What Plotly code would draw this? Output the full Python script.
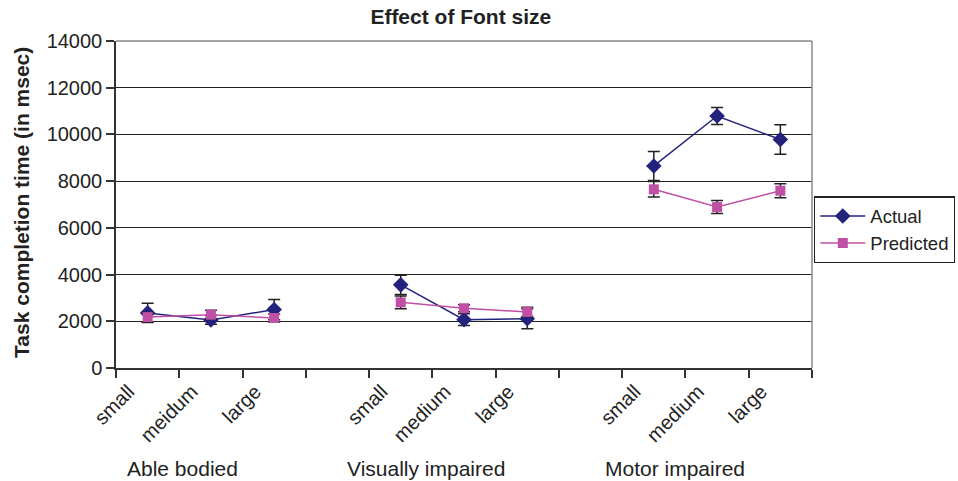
import plotly.graph_objects as go

# ---- data ----
categories = ["small", "meidum", "large", "", "small", "medium", "large", "", "small", "medium", "large"]
groups = ["Able bodied", "Visually impaired", "Motor impaired"]
actual = [2360, 2060, 2500, None, 3560, 2070, 2110, None, 8650, 10790, 9780]
actual_err = [410, 190, 430, None, 410, 250, 430, None, 620, 360, 630]
predicted = [2180, 2285, 2140, None, 2810, 2560, 2400, None, 7650, 6890, 7590]
predicted_err = [200, 190, 170, None, 270, 150, 200, None, 330, 280, 300]
yticks = [0, 2000, 4000, 6000, 8000, 10000, 12000, 14000]

xpos = list(range(len(categories)))
FONT = "Liberation Sans, Arial, sans-serif"
NAVY = "#23237E"
PINK = "#C04FA6"
TXT = "#222222"

fig = go.Figure()
fig.add_trace(go.Scatter(
    x=xpos, y=actual, name="Actual", mode="lines+markers",
    line=dict(color=NAVY, width=1.5),
    marker=dict(symbol="diamond", size=12, color=NAVY),
    error_y=dict(type="data", array=actual_err, color=TXT, thickness=1.5, width=6),
    connectgaps=False,
))
fig.add_trace(go.Scatter(
    x=xpos, y=predicted, name="Predicted", mode="lines+markers",
    line=dict(color=PINK, width=1.5),
    marker=dict(symbol="square", size=10, color=PINK),
    error_y=dict(type="data", array=predicted_err, color=TXT, thickness=1.5, width=6),
    connectgaps=False,
))
# invisible trace to activate the label axis
fig.add_trace(go.Scatter(x=[xpos[0]], y=[None], xaxis="x2", showlegend=False, hoverinfo="skip"))

n = len(categories)
boundaries = [i - 0.5 for i in range(n + 1)]

fig.update_layout(
    width=958, height=481,
    margin=dict(l=116, r=146, t=41, b=113, autoexpand=False),
    paper_bgcolor="white", plot_bgcolor="white",
    font=dict(family=FONT, size=20, color=TXT),
    title=dict(text="<b>Effect of Font size</b>", x=0.481, xanchor="center",
               y=1 - 17 / 481, yanchor="middle", font=dict(size=21, family=FONT, color=TXT)),
    xaxis=dict(range=[-0.5, n - 0.5], tickvals=boundaries, ticktext=[""] * len(boundaries),
               ticks="outside", ticklen=8, tickcolor="#333333", tickwidth=1.5,
               showgrid=False, zeroline=False, showline=True, linecolor="#333333", linewidth=1.5),
    xaxis2=dict(range=[-0.5, n - 0.5], overlaying="x", side="bottom", anchor="y",
                tickvals=[p - 0.3 for p in xpos], ticktext=categories, tickangle=-45,
                ticks="outside", ticklen=3, tickcolor="rgba(0,0,0,0)",
                showgrid=False, zeroline=False, showline=False,
                tickfont=dict(size=20, family=FONT, color=TXT)),
    yaxis=dict(range=[0, 14000], tickvals=yticks, ticktext=[str(v) for v in yticks],
               ticks="outside", ticklen=8, tickcolor="#333333", tickwidth=1.5,
               showgrid=True, gridcolor=TXT, gridwidth=1.2, zeroline=False,
               showline=True, linecolor="#333333", linewidth=1.5,
               tickfont=dict(size=20, family=FONT, color=TXT)),
    legend=dict(x=1.003, y=0.525, xanchor="left", yanchor="top",
                bordercolor=TXT, borderwidth=1.2, bgcolor="white",
                font=dict(size=18.5, family=FONT, color=TXT),
                itemwidth=45, tracegroupgap=0),
    showlegend=True,
)

# plot frame (top and right edges, gray)
fig.add_shape(type="line", xref="paper", yref="paper", x0=0, x1=1, y0=1, y1=1,
              line=dict(color="#888888", width=1.5))
fig.add_shape(type="line", xref="paper", yref="paper", x0=1, x1=1, y0=0, y1=1,
              line=dict(color="#888888", width=1.5))

# y axis title
fig.add_annotation(text="<b>Task completion time (in msec)</b>", xref="paper", yref="paper",
                   x=-0.135, y=0.505, xanchor="center", yanchor="middle",
                   textangle=-90, showarrow=False,
                   font=dict(size=21, family=FONT, color=TXT))

# group labels
group_x = [0.096, 0.445, 0.803]
for g, gx in zip(groups, group_x):
    fig.add_annotation(text=g, xref="paper", yref="paper", x=gx, y=-0.306,
                       xanchor="center", yanchor="middle", showarrow=False,
                       font=dict(size=21, family=FONT, color=TXT))

fig.write_html("out.html", config={"displayModeBar": False},
               post_script="document.body.style.margin='0';")
